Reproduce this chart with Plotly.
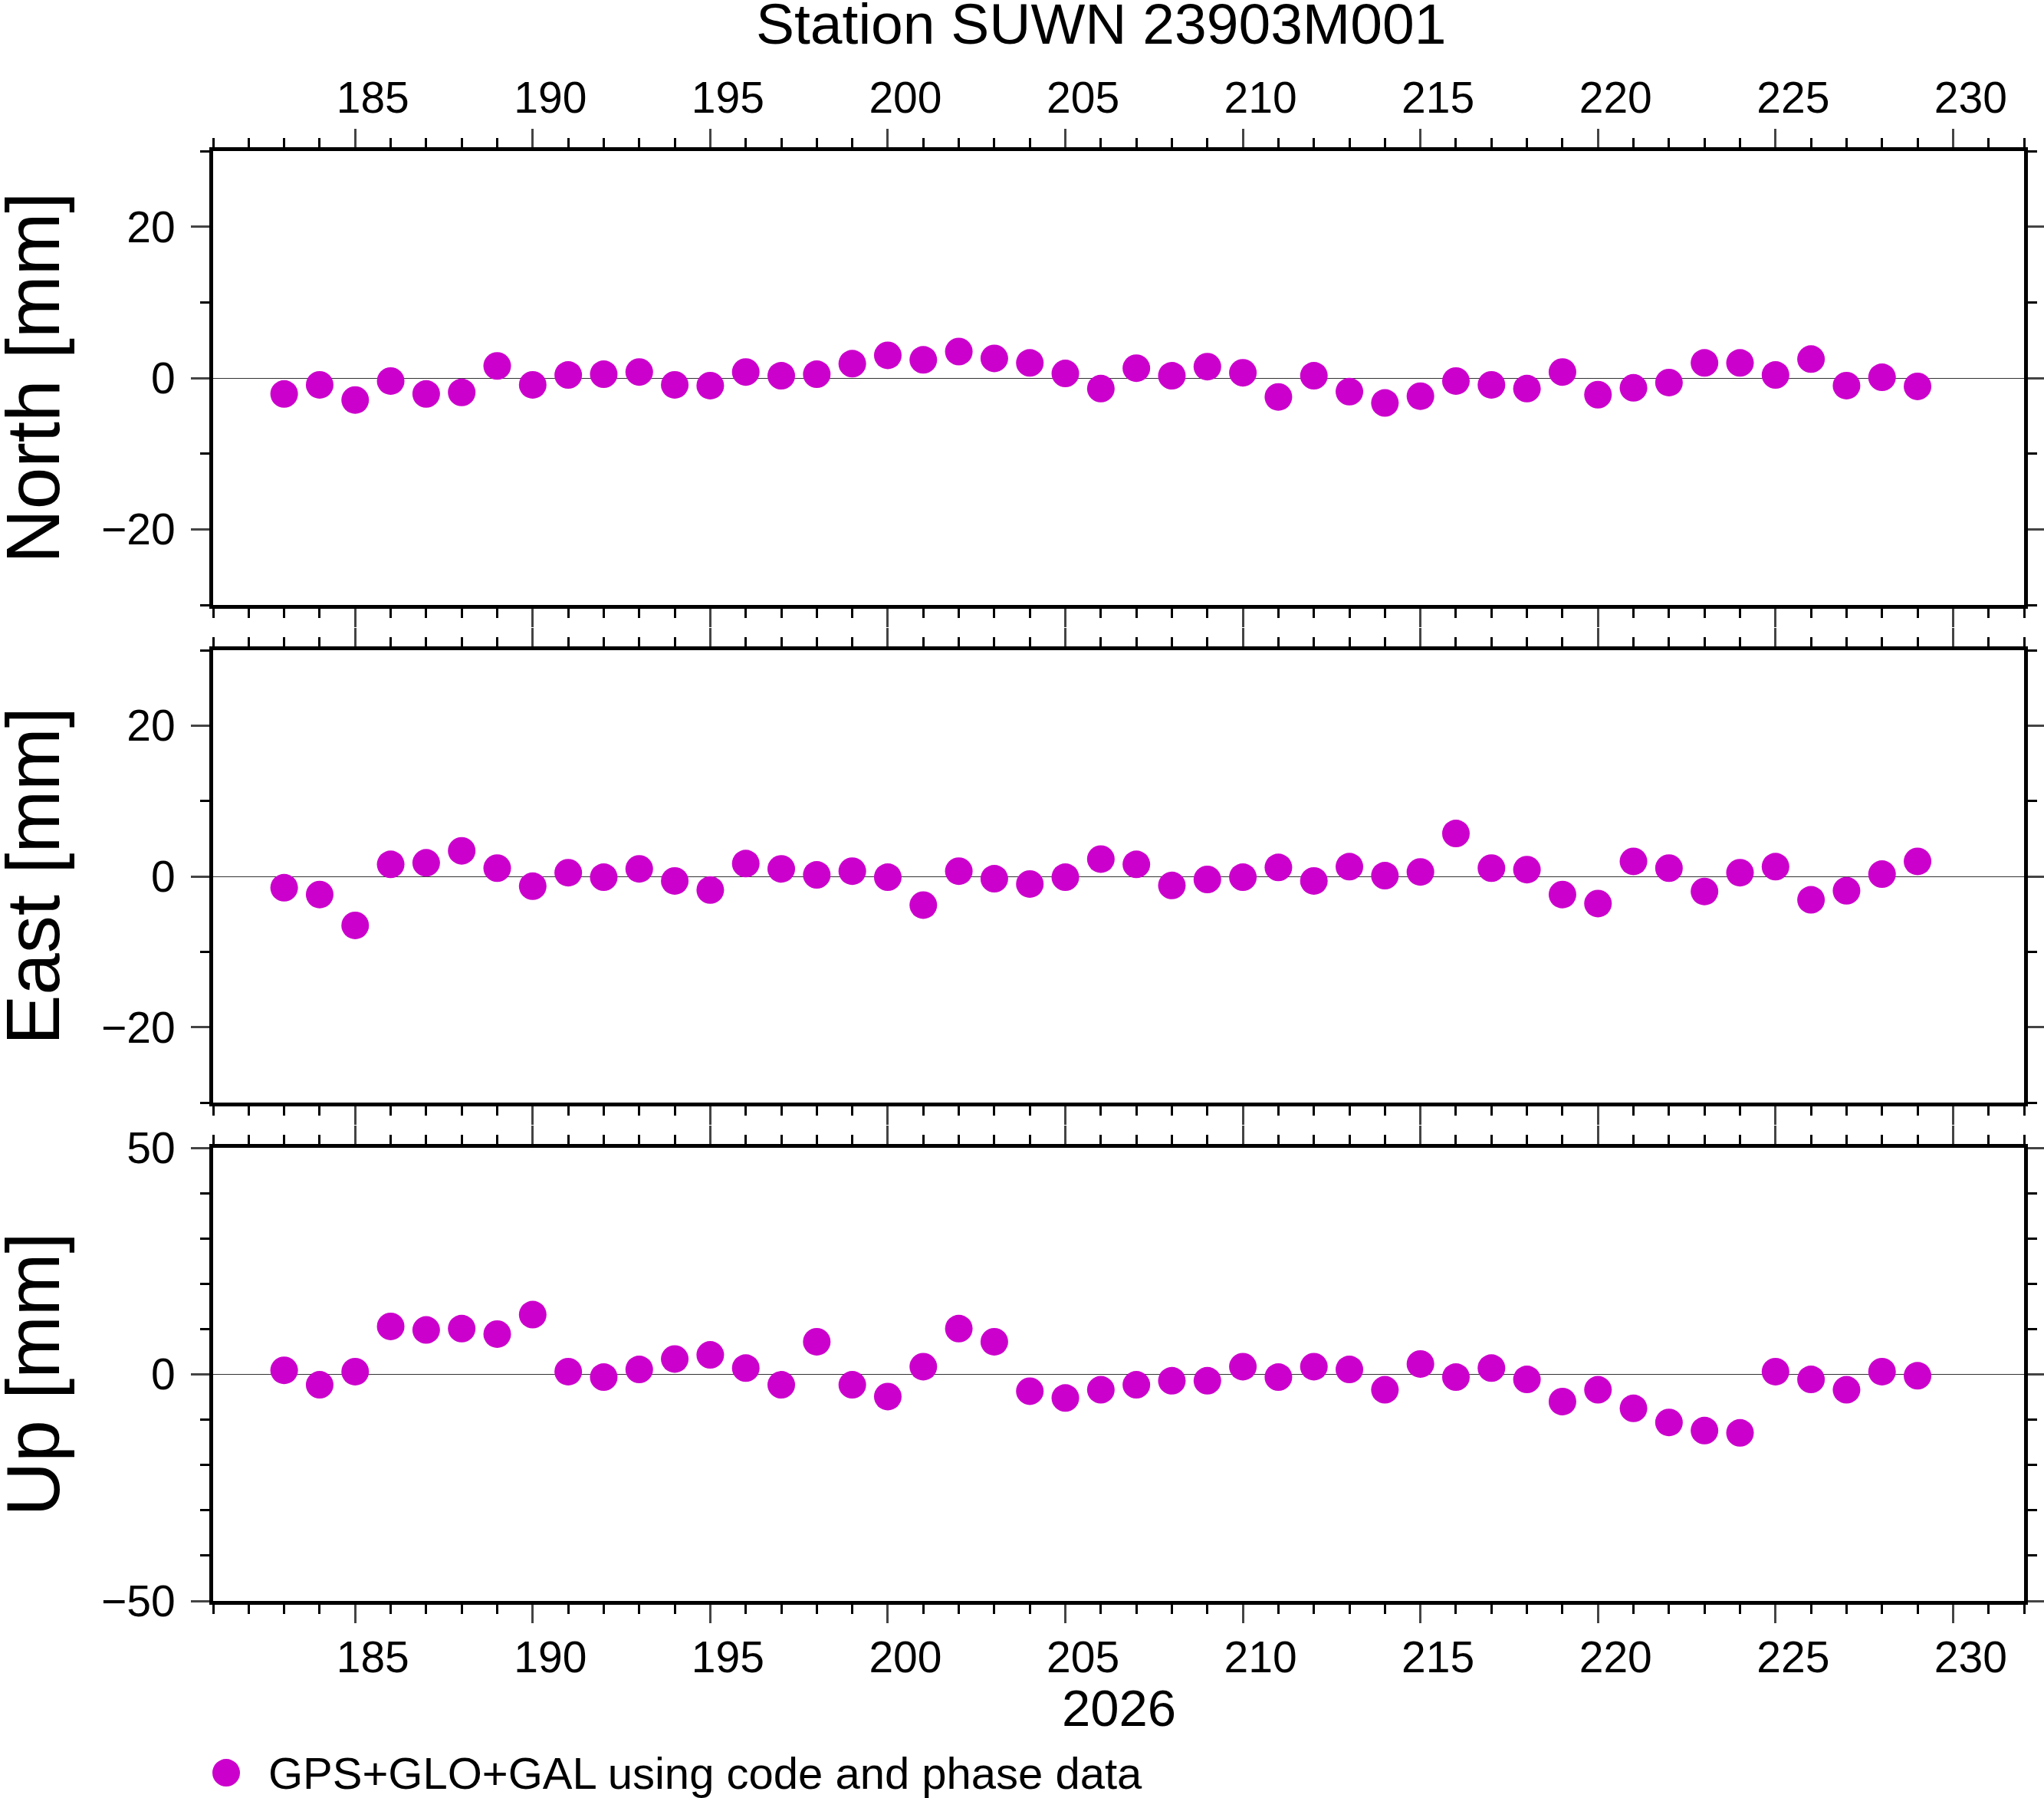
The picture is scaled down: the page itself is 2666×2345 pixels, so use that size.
import plotly.graph_objects as go

# day of year 2026
days = [183, 184, 185, 186, 187, 188, 189, 190, 191, 192, 193, 194, 195, 196, 197, 198,
        199, 200, 201, 202, 203, 204, 205, 206, 207, 208, 209, 210, 211, 212, 213, 214,
        215, 216, 217, 218, 219, 220, 221, 222, 223, 224, 225, 226, 227, 228, 229]

north = [-2.1, -0.9, -2.9, -0.4, -2.1, -1.9, 1.6, -0.9, 0.4, 0.5, 0.8, -0.9, -1.0, 0.8, 0.3, 0.5,
         1.9, 3.0, 2.4, 3.5, 2.6, 2.0, 0.6, -1.4, 1.3, 0.3, 1.5, 0.7, -2.5, 0.3, -1.8, -3.3,
         -2.4, -0.4, -0.9, -1.4, 0.8, -2.2, -1.3, -0.6, 2.0, 2.0, 0.4, 2.5, -1.0, 0.1, -1.1]

east = [-1.5, -2.4, -6.5, 1.6, 1.8, 3.4, 1.1, -1.3, 0.5, -0.1, 1.0, -0.6, -1.8, 1.7, 1.0, 0.2,
        0.7, -0.1, -3.8, 0.7, -0.3, -1.0, -0.1, 2.3, 1.6, -1.2, -0.4, -0.1, 1.2, -0.6, 1.3, 0.1,
        0.6, 5.7, 1.1, 0.9, -2.4, -3.6, 2.0, 1.1, -2.0, 0.5, 1.3, -3.1, -1.9, 0.3, 2.0]

up = [0.9, -2.3, 0.6, 10.6, 9.8, 10.1, 8.9, 13.2, 0.6, -0.6, 1.1, 3.4, 4.3, 1.4, -2.3, 7.2,
      -2.3, -4.9, 1.7, 10.1, 7.2, -3.7, -5.2, -3.4, -2.3, -1.4, -1.4, 1.7, -0.6, 1.7, 1.1, -3.4,
      2.3, -0.6, 1.4, -1.1, -6.0, -3.4, -7.5, -10.6, -12.4, -12.9, 0.6, -1.1, -3.4, 0.6, -0.3]

panel_titles = ["North [mm]", "East [mm]", "Up [mm]"]
y_ranges = [[-30, 30], [-30, 30], [-50, 50]]
y_dticks = [20, 20, 50]
station = "Station SUWN 23903M001"
year_label = "2026"
legend_label = "GPS+GLO+GAL using code and phase data"

FONT = "Liberation Sans"
MAGENTA = "#CC00CC"
domains = [[0.6869, 1.0], [0.3437, 0.6557], [0.0, 0.3125]]

fig = go.Figure()
for i, vals in enumerate([north, east, up]):
    n = "" if i == 0 else str(i + 1)
    fig.add_trace(go.Scatter(x=days, y=vals, mode="markers", xaxis="x" + n, yaxis="y" + n,
                             marker=dict(size=36, color=MAGENTA), showlegend=False))

    xa = dict(range=[181, 232], tick0=0, dtick=5, ticks="outside", ticklen=24, tickwidth=3,
              showline=True, linewidth=5, linecolor="black", mirror="ticks",
              showgrid=False, zeroline=False, anchor="y" + n, automargin=False,
              tickfont=dict(family=FONT, size=57, color="black"),
              ticklabelshift=23,
              minor=dict(dtick=1, tick0=0, ticks="outside", ticklen=12, tickwidth=3, tickcolor="black"))
    if i == 0:
        xa.update(side="top", ticklabelstandoff=-2)
    elif i == 1:
        xa.update(showticklabels=False)
    else:
        xa.update(side="bottom", ticklabelstandoff=-4)

    ya = dict(range=y_ranges[i], tick0=0, dtick=y_dticks[i], ticks="outside", ticklen=24, tickwidth=3,
              showline=True, linewidth=5, linecolor="black", mirror="ticks",
              showgrid=False, zeroline=True, zerolinecolor="#333333", zerolinewidth=1.2,
              domain=domains[i], anchor="x" + n, automargin=False,
              tickfont=dict(family=FONT, size=57, color="black"), ticklabelstandoff=9,
              minor=dict(dtick=10, tick0=0, ticks="outside", ticklen=12, tickwidth=3, tickcolor="black"))

    fig.layout["xaxis" + n] = xa
    fig.layout["yaxis" + n] = ya

    fig.add_annotation(text=panel_titles[i], xref="paper", yref="paper",
                       x=0, y=sum(domains[i]) / 2, xanchor="left", yanchor="middle",
                       xshift=-292, textangle=-90, showarrow=False,
                       font=dict(family=FONT, size=98, color="black"))

fig.add_annotation(text=station, xref="paper", yref="paper", x=0.4903, y=1.0,
                   xanchor="center", yanchor="bottom", yshift=122, showarrow=False,
                   font=dict(family=FONT, size=75, color="black"))
fig.add_annotation(text=year_label, xref="paper", yref="paper", x=0.5, y=0.0,
                   xanchor="center", yanchor="top", yshift=-100, showarrow=False,
                   font=dict(family=FONT, size=67, color="black"))

# legend entry
fig.add_shape(type="circle", xref="paper", yref="paper", xsizemode="pixel", ysizemode="pixel",
              xanchor=0.0072, yanchor=-0.1185, x0=-18, x1=18, y0=-18, y1=18,
              fillcolor=MAGENTA, line=dict(width=0))
fig.add_annotation(text=legend_label, xref="paper", yref="paper", x=0.0072, y=-0.1185,
                   xanchor="left", yanchor="middle", xshift=53, showarrow=False,
                   font=dict(family=FONT, size=58, color="black"))

fig.update_layout(width=2666, height=2345, margin=dict(l=278, r=26, t=197, b=257, autoexpand=False),
                  paper_bgcolor="white", plot_bgcolor="white")

fig.write_html("out.html", config={"displayModeBar": False},
               post_script="document.body.style.margin='0';"
                           "document.body.style.overflow='hidden';"
                           "document.documentElement.style.overflow='hidden';")
